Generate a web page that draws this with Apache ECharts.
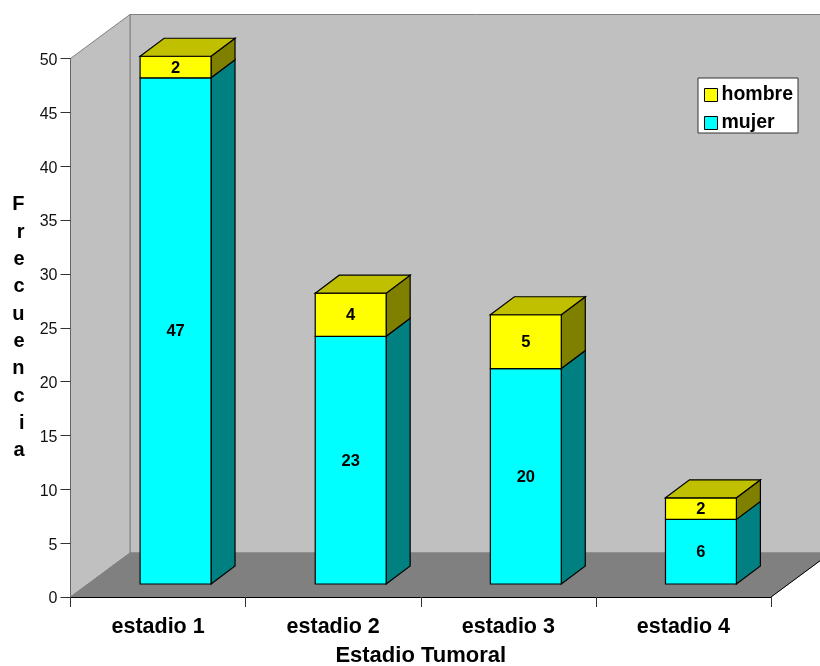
<!DOCTYPE html>
<html>
<head>
<meta charset="utf-8">
<style>html,body{margin:0;padding:0;background:#fff}#chart{width:820px;height:666px}</style>
<script src="https://cdn.jsdelivr.net/npm/echarts@6/dist/echarts.min.js"></script>
</head>
<body>
<div id="chart"></div>
<script>
// Frecuencia de casos por estadio tumoral y sexo
const categories = ['estadio 1', 'estadio 2', 'estadio 3', 'estadio 4'];
const mujer = [47, 23, 20, 6];
const hombre = [2, 4, 5, 2];

const FONT = '"Liberation Sans", Arial, sans-serif';
const WALL = { dx: 59.5, dy: -44 };   // depth of the box
const INSET = { dx: 17.5, dy: -13 };  // where the columns start inside the box
const COLUMN = { dx: 24, dy: -18, widthRatio: 0.405 };
const EDGE_WIDTH = 1.2;

const chart = echarts.init(document.getElementById('chart'), null, { renderer: 'canvas' });

function poly(points, fill, stroke, lineWidth) {
  return {
    type: 'polygon',
    shape: { points },
    style: { fill, stroke: stroke || fill, lineWidth: lineWidth || 1 }
  };
}

// Back wall, side wall and floor of the box, taken from the grid rectangle
function renderBox(params) {
  const g = params.coordSys;
  const l = g.x, r = g.x + g.width, t = g.y, b = g.y + g.height;
  const dx = WALL.dx, dy = WALL.dy;
  return {
    type: 'group',
    children: [
      poly([[l + dx, t + dy], [r + dx, t + dy], [r + dx, b + dy], [l + dx, b + dy]], '#c0c0c0', '#808080'),
      poly([[l, t], [l + dx, t + dy], [l + dx, b + dy], [l, b]], '#c0c0c0', '#808080'),
      poly([[l, b], [l + dx, b + dy], [r + dx, b + dy], [r, b]], '#808080', '#808080'),
      { type: 'line', shape: { x1: r, y1: b, x2: r + dx, y2: b + dy }, style: { stroke: '#000', lineWidth: 1 } }
    ]
  };
}

// One stacked block with front, side and, on the last block, top faces
function blockRenderer(front, side, top) {
  return function (params, api) {
    const cat = api.value(0), from = api.value(1), to = api.value(2);
    const w = api.size([1, 0])[0] * COLUMN.widthRatio;
    const p0 = api.coord([cat, from]), p1 = api.coord([cat, to]);
    const xl = p0[0] + INSET.dx - w / 2, xr = xl + w;
    const yb = p0[1] + INSET.dy, yt = p1[1] + INSET.dy;
    const dx = COLUMN.dx, dy = COLUMN.dy;
    const edge = '#000';
    const children = [
      poly([[xr, yb], [xr + dx, yb + dy], [xr + dx, yt + dy], [xr, yt]], side, edge, EDGE_WIDTH),
      poly([[xl, yb], [xr, yb], [xr, yt], [xl, yt]], front, edge, EDGE_WIDTH)
    ];
    if (top) {
      children.push(poly([[xl, yt], [xl + dx, yt + dy], [xr + dx, yt + dy], [xr, yt]], top, edge, EDGE_WIDTH));
    }
    children.push({
      type: 'text',
      style: {
        x: (xl + xr) / 2,
        y: (yb + yt) / 2 + 1,
        text: String(to - from),
        align: 'center',
        verticalAlign: 'middle',
        fill: '#000',
        font: 'bold 16.5px ' + FONT
      }
    });
    return { type: 'group', children };
  };
}

chart.setOption({
  animation: false,
  backgroundColor: '#fff',
  grid: { left: 70.5, right: 49, top: 58.5, bottom: 69, outerBoundsMode: 'none' },
  legend: {
    left: 698,
    top: 78,
    orient: 'vertical',
    itemWidth: 13,
    itemHeight: 13,
    itemGap: 8,
    padding: [7, 5, 0, 6],
    backgroundColor: '#fff',
    borderColor: '#333',
    borderWidth: 1,
    borderRadius: 0,
    selectedMode: false,
    icon: 'rect',
    textStyle: { fontFamily: FONT, fontWeight: 'bold', fontSize: 19.5, color: '#000', padding: [0, 0, 0, -1] },
    data: [
      { name: 'hombre', itemStyle: { color: '#ffff00', borderColor: '#000', borderWidth: 1 } },
      { name: 'mujer', itemStyle: { color: '#00ffff', borderColor: '#000', borderWidth: 1 } }
    ]
  },
  xAxis: {
    type: 'category',
    data: categories,
    name: 'Estadio Tumoral',
    nameLocation: 'middle',
    nameGap: 48,
    nameTextStyle: { fontFamily: FONT, fontWeight: 'bold', fontSize: 22, color: '#000' },
    axisLine: { lineStyle: { color: '#000', width: 1 } },
    axisTick: { show: true, length: 10, alignWithLabel: false, lineStyle: { color: '#333', width: 1 } },
    axisLabel: { fontFamily: FONT, fontWeight: 'bold', fontSize: 21.5, color: '#000', margin: 19 }
  },
  yAxis: {
    type: 'value',
    min: 0,
    max: 50,
    interval: 5,
    name: 'Frecuencia'.split('').join('\n'),
    nameLocation: 'middle',
    nameRotate: 0,
    nameGap: 46,
    nameTextStyle: { fontFamily: FONT, fontWeight: 'bold', fontSize: 20, color: '#000', lineHeight: 27.3, verticalAlign: 'middle', padding: [5, 0, 0, 0] },
    axisLine: { show: true, lineStyle: { color: '#666', width: 1 } },
    axisTick: { show: true, length: 10, lineStyle: { color: '#333', width: 1 } },
    axisLabel: { fontFamily: FONT, fontSize: 16, color: '#111', margin: 13, verticalAlign: 'top', padding: [-6, 0, 0, 0] },
    splitLine: { show: false }
  },
  series: [
    {
      name: 'caja',
      type: 'custom',
      z: -1,
      silent: true,
      renderItem: renderBox,
      data: [[0, 0]],
      encode: { x: 0, y: 1 }
    },
    {
      name: 'mujer',
      type: 'custom',
      z: 3,
      itemStyle: { color: '#00ffff' },
      renderItem: blockRenderer('#00ffff', '#008080', null),
      encode: { x: 0, y: [1, 2] },
      data: categories.map((c, i) => [i, 0, mujer[i]])
    },
    {
      name: 'hombre',
      type: 'custom',
      z: 4,
      itemStyle: { color: '#ffff00' },
      renderItem: blockRenderer('#ffff00', '#808000', '#c0c000'),
      encode: { x: 0, y: [1, 2] },
      data: categories.map((c, i) => [i, mujer[i], mujer[i] + hombre[i]])
    }
  ]
});
</script>
</body>
</html>
